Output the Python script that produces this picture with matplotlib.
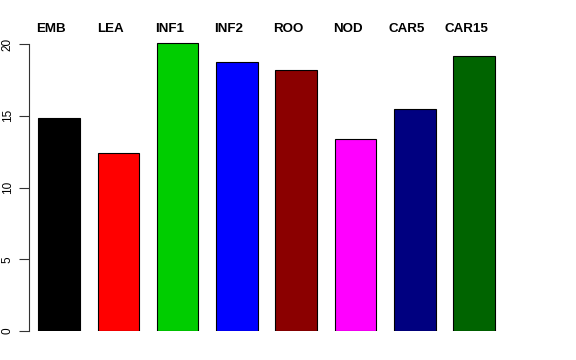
import matplotlib
matplotlib.use("Agg")
import matplotlib.pyplot as plt
import numpy as np

categories = ["EMB", "LEA", "INF1", "INF2", "ROO", "NOD", "CAR5", "CAR15"]
values = [14.84, 12.40, 20.07, 18.75, 18.19, 13.38, 15.47, 19.16]
colors = ["#000000", "#FF0000", "#00CD00", "#0000FF", "#8B0000", "#FF00FF", "#000080", "#006400"]
yticks = [0, 5, 10, 15, 20]

plt.rcParams['font.family'] = ['Liberation Sans', 'DejaVu Sans']

W, H = 576, 360
fig = plt.figure(figsize=(5.76, 3.6), dpi=100)
# px mapping: x px = 59 + 59.3*x ; y px = 331 - 14.35*y
ax_left_px, ax_right_px = 29, 547
ax_top_px, ax_bot_px = 20, 331
ax = fig.add_axes([ax_left_px / W, 1 - ax_bot_px / H,
                   (ax_right_px - ax_left_px) / W, (ax_bot_px - ax_top_px) / H])
sx = 59.3
ax.set_xlim((ax_left_px - 59) / sx, (ax_right_px - 59) / sx)
ax.set_ylim(0, (ax_bot_px - ax_top_px) / 14.35)

x = np.arange(len(categories))
ax.bar(x, values, width=41.5 / sx, color=colors, edgecolor="black", linewidth=0.8)

for xi, lab in zip(x, categories):
    ax.text(xi - 8.0 / sx, (331 - 29) / 14.35, lab, ha="center", va="center",
            fontsize=9.6, fontweight="bold", clip_on=False)

for s in ["top", "right", "bottom"]:
    ax.spines[s].set_visible(False)
ax.spines["left"].set_bounds(0, 20)
ax.spines["left"].set_color("#333333")
ax.spines["left"].set_linewidth(0.8)
ax.set_xticks([])
ax.set_yticks(yticks)
ax.set_yticklabels([str(t) for t in yticks], rotation=90, va="center", fontsize=8.5)
ax.tick_params(axis="y", length=7, width=0.8, pad=4, color="#333333")

fig.savefig("out.png", dpi=100)
